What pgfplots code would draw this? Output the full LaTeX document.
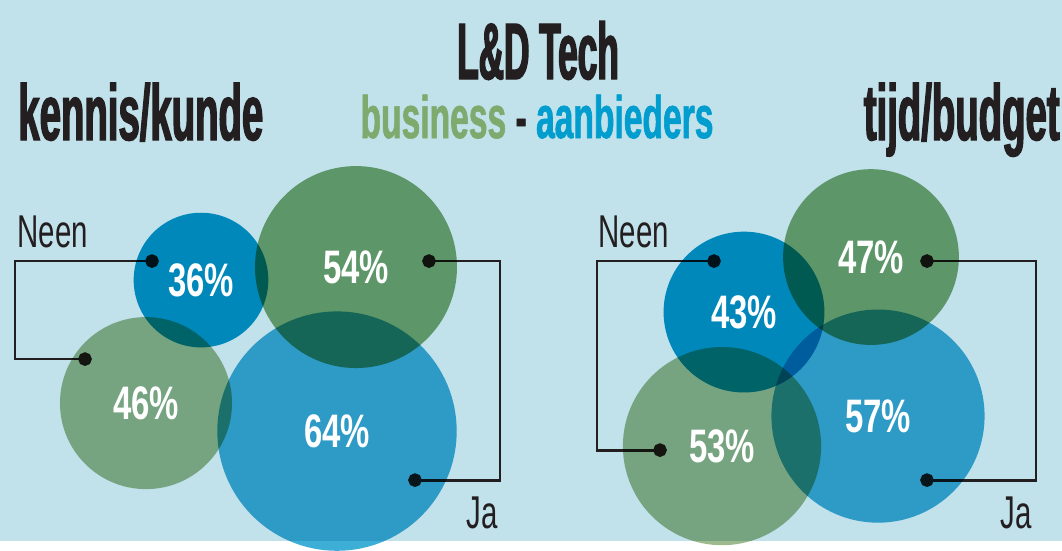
\documentclass[border=0pt]{standalone}
\usepackage{pgfplots}
\pgfplotsset{compat=1.18}
\usepackage{pgfplotstable}
\usepackage{fontspec}
\setmainfont{Liberation Sans}
\newfontfamily\titlefont{Liberation Sans}[FakeStretch=0.44,FakeBold=1.8]
\newfontfamily\headfont{Liberation Sans}[FakeStretch=0.485,FakeBold=1.6]
\newfontfamily\subfont{Liberation Sans}[FakeStretch=0.56,FakeBold=1.0]
\newfontfamily\pctfont{Liberation Sans}[FakeStretch=0.70]
\newfontfamily\lblfont{Liberation Sans}[FakeStretch=0.64]
\definecolor{bg}{HTML}{C1E1EB}
\definecolor{ink}{HTML}{231F20}
\definecolor{bizgreen}{HTML}{7FAA6E}
\definecolor{aanblue}{HTML}{009DCE}
\definecolor{blueD}{HTML}{009BCB}
\definecolor{greenD}{HTML}{7CAA71}
\definecolor{greenL}{HTML}{9CBA8D}
\definecolor{blueL}{HTML}{3DAFD7}

% circles: centre (px, y downwards), percentage, colour class
\pgfplotstableread{
x y p c
201 280 36 bd
356 267 54 gd
146 403 46 gl
337 431 64 bl
744 312 43 bd
871 257 47 gd
722 446 53 gl
878 416 57 bl
}\circles

\begin{document}
\begin{tikzpicture}
\begin{axis}[
  scale only axis, width=531pt, height=270.5pt,
  xmin=0, xmax=1062, ymin=0, ymax=541, y dir=reverse,
  axis line style={draw=none}, ticks=none,
  axis background/.style={fill=bg},
  clip=true,
]
% brackets
\addplot[ink, line width=1.4pt, mark=*, mark indices={1,4}, mark size=2.7pt, mark options={fill=ink}]
  coordinates {(152,261) (15,261) (15,359) (85,359)};
\addplot[ink, line width=1.4pt, mark=*, mark indices={1,4}, mark size=2.7pt, mark options={fill=ink}]
  coordinates {(429,261) (500,261) (500,480) (415,480)};
\addplot[ink, line width=1.4pt, mark=*, mark indices={1,4}, mark size=2.7pt, mark options={fill=ink}]
  coordinates {(714,261) (597,261) (597,450) (660,450)};
\addplot[ink, line width=1.4pt, mark=*, mark indices={1,4}, mark size=2.7pt, mark options={fill=ink}]
  coordinates {(927,261) (1036,261) (1036,480) (927,480)};

% bubbles (radius proportional to percentage)
\addplot[scatter, only marks, mark=*,
  point meta=explicit symbolic,
  scatter/classes={
    bd={fill=blueD, draw opacity=0, blend mode=multiply},
    gd={fill=greenD, draw opacity=0, blend mode=multiply},
    gl={fill=greenL, draw opacity=0, blend mode=multiply},
    bl={fill=blueL, draw opacity=0, blend mode=multiply}},
  mark options={draw opacity=0},
  visualization depends on={0.935*\thisrow{p} \as \rad},
  scatter/@pre marker code/.append style={/tikz/mark size=\rad},
  blend mode=multiply]
  table[x=x, y=y, meta=c]{\circles};

% percentage labels
\addplot[only marks, mark=none,
  point meta=explicit symbolic,
  nodes near coords={\pgfplotspointmeta\%},
  nodes near coords style={anchor=center, text=white, font=\pctfont\bfseries\fontsize{23.5}{25}\selectfont}]
  table[x=x, y=y, meta=p]{\circles};

% texts
\node[anchor=base, inner sep=0pt, text=ink, font=\titlefont\bfseries\fontsize{40}{42}\selectfont] at (axis cs:538,79) {L\&D Tech};
\node[anchor=base west, inner sep=0pt, text=ink, font=\headfont\bfseries\fontsize{39.5}{42}\selectfont] at (axis cs:18,140) {kennis/kunde};
\node[anchor=base east, inner sep=0pt, text=ink, font=\headfont\bfseries\fontsize{39.5}{42}\selectfont] at (axis cs:1060,140) {tijd/budget};
\node[anchor=base, inner sep=0pt, font=\subfont\bfseries\fontsize{30}{32}\selectfont] at (axis cs:537,138) {\textcolor{bizgreen}{business} \textcolor{ink}{-} \textcolor{aanblue}{aanbieders}};
\node[anchor=base west, inner sep=0pt, text=ink, font=\lblfont\fontsize{23}{25}\selectfont] at (axis cs:17,247) {Neen};
\node[anchor=base west, inner sep=0pt, text=ink, font=\lblfont\fontsize{23}{25}\selectfont] at (axis cs:598,247) {Neen};
\node[anchor=base east, inner sep=0pt, text=ink, font=\lblfont\fontsize{23}{25}\selectfont] at (axis cs:498,528) {Ja};
\node[anchor=base east, inner sep=0pt, text=ink, font=\lblfont\fontsize{23}{25}\selectfont] at (axis cs:1032,528) {Ja};
\end{axis}
\end{tikzpicture}
\end{document}
